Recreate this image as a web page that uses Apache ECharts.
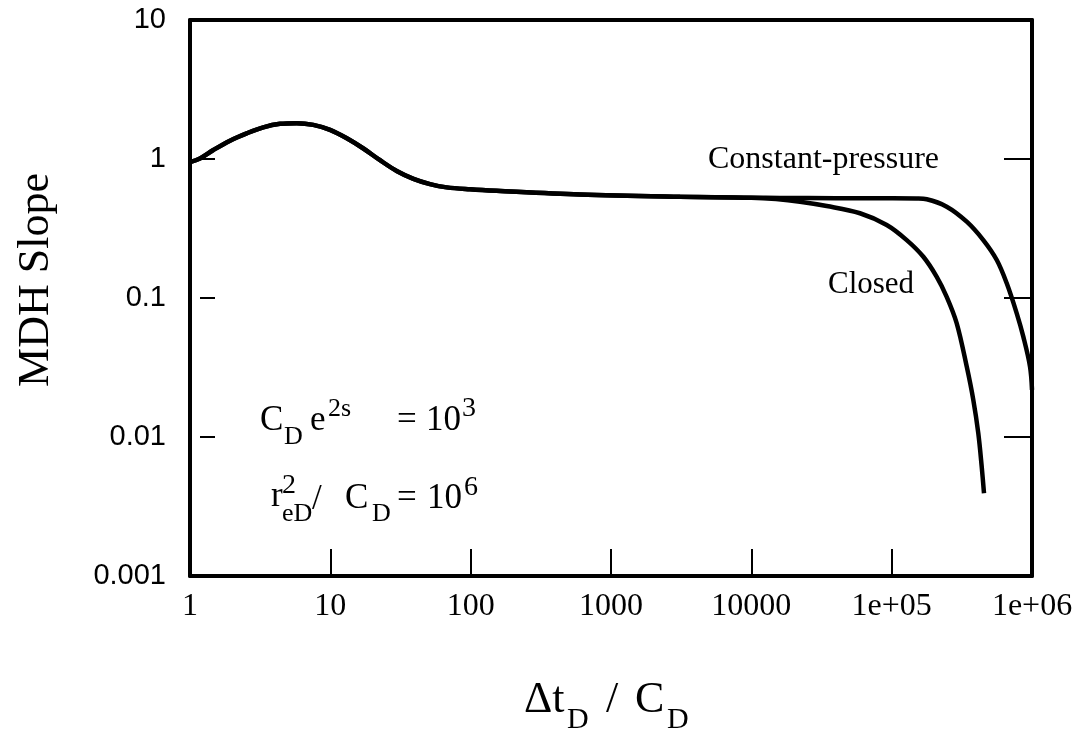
<!DOCTYPE html>
<html>
<head>
<meta charset="utf-8">
<script src="https://cdn.jsdelivr.net/npm/echarts@6/dist/echarts.min.js"></script>
<style>html,body{margin:0;padding:0;background:#fff}#c{width:1083px;height:739px}</style>
</head>
<body>
<div id="c"></div>
<script>
// Shared early-time part of both curves
var tCommon = [1, 1.178, 1.466, 1.928, 2.535, 3.33, 4.38, 5.76, 7.56, 9.95, 13.1, 17.2, 22.6, 29.7, 39.1, 51.3, 67.5, 98.9, 153, 600, 3100, 10000];
var vCommon = [0.95, 1.01, 1.16, 1.355, 1.53, 1.69, 1.79, 1.81, 1.76, 1.62, 1.41, 1.19, 0.98, 0.82, 0.72, 0.66, 0.625, 0.605, 0.59, 0.555, 0.535, 0.527];
// Constant-pressure boundary continuation
var tConst = [16000, 40000, 102000, 150000, 177800, 246700, 342700, 449800, 561000, 660700, 778400, 867000, 968000, 1000000];
var vConst = [0.524, 0.523, 0.523, 0.52, 0.513, 0.454, 0.354, 0.261, 0.1876, 0.1276, 0.0776, 0.0527, 0.0321, 0.0218];
// Closed boundary continuation
var tClosed = [15000, 22230, 34450, 59460, 92200, 128000, 168200, 209500, 246700, 290800, 342700, 381900, 414300, 438200, 455000];
var vClosed = [0.515, 0.493, 0.459, 0.407, 0.335, 0.261, 0.198, 0.142, 0.102, 0.0658, 0.0321, 0.01845, 0.01064, 0.00611, 0.00394];

var xTickLabels = ["1", "10", "100", "1000", "10000", "1e+05", "1e+06"];
var yTickLabels = ["0.001", "0.01", "0.1", "1", "10"];

function pairs(ts, vs) { return ts.map(function (t, i) { return [t, vs[i]]; }); }
var constData = pairs(tCommon, vCommon).concat(pairs(tConst, vConst));
var closedData = pairs(tCommon, vCommon).concat(pairs(tClosed, vClosed));

var serif = '"Liberation Serif", "DejaVu Serif", serif';
var sans = '"Liberation Sans", Arial, sans-serif';

function txt(x, yBase, s, size, extra) {
  var o = {
    type: 'text', left: x, top: yBase - 0.34 * size - size / 2,
    style: { text: s, fontFamily: serif, fontSize: size, fill: '#000', verticalAlign: 'top' }
  };
  if (extra) for (var k in extra) o.style[k] = extra[k];
  return o;
}

var chart = echarts.init(document.getElementById('c'));
chart.setOption({
  animation: false,
  backgroundColor: '#fff',
  grid: { left: 190, right: 51, top: 20, bottom: 163, containLabel: false },
  xAxis: [{
    type: 'log', logBase: 10, min: 1, max: 1000000, splitNumber: 6,
    axisLine: { show: true, lineStyle: { color: '#000', width: 4 } },
    axisTick: { show: true, inside: true, length: 27, lineStyle: { color: '#000', width: 2 } },
    minorTick: { show: false }, splitLine: { show: false },
    axisLabel: {
      margin: 15, color: '#000', fontFamily: serif, fontSize: 32,
      formatter: function (v) { return xTickLabels[Math.round(Math.log10(v))]; }
    }
  }, {
    type: 'log', logBase: 10, min: 1, max: 1000000, position: 'top',
    axisLine: { show: true, lineStyle: { color: '#000', width: 4 } },
    axisTick: { show: false }, axisLabel: { show: false }, splitLine: { show: false }
  }],
  yAxis: [{
    type: 'log', logBase: 10, min: 0.001, max: 10, splitNumber: 4, position: 'left',
    axisLine: { show: true, lineStyle: { color: '#000', width: 4 } },
    axisTick: { show: false }, minorTick: { show: false }, splitLine: { show: false },
    axisLabel: {
      margin: 24, color: '#000', fontFamily: sans, fontSize: 29,
      formatter: function (v) { return yTickLabels[Math.round(Math.log10(v)) + 3]; }
    }
  }, {
    type: 'log', logBase: 10, min: 0.001, max: 10, splitNumber: 4, position: 'right',
    axisLine: { show: true, lineStyle: { color: '#000', width: 4 } },
    axisTick: { show: true, inside: true, length: 28, lineStyle: { color: '#000', width: 2 } },
    axisLabel: { show: false }, splitLine: { show: false }
  }, {
    type: 'log', logBase: 10, min: 0.001, max: 10, splitNumber: 4, position: 'left', offset: -10,
    axisLine: { show: false },
    axisTick: { show: true, inside: true, length: 15, lineStyle: { color: '#000', width: 2 } },
    axisLabel: { show: false }, splitLine: { show: false }
  }],
  series: [{
    name: 'Constant-pressure', type: 'line', data: constData, smooth: 0.35, symbol: 'none',
    lineStyle: { color: '#000', width: 4.5 }, z: 3
  }, {
    name: 'Closed', type: 'line', data: closedData, smooth: 0.35, symbol: 'none',
    lineStyle: { color: '#000', width: 4.5 }, z: 3
  }],
  graphic: [
    txt(708, 170, 'Constant-pressure', 32),
    txt(828, 295, 'Closed', 31),
    // C_D e^{2s} = 10^3
    txt(260, 433, 'C', 35),
    txt(284, 446, 'D', 26),
    txt(310, 433, 'e', 35),
    txt(328, 418, '2s', 26),
    txt(397, 433, '=', 35),
    txt(426, 433, '10', 35),
    txt(462, 418, '3', 28),
    // r_eD^2 / C_D = 10^6
    txt(271, 509, 'r', 35),
    txt(282, 495, '2', 28),
    txt(282, 523, 'eD', 26),
    txt(312, 512, '/', 35),
    txt(345, 511, 'C', 35),
    txt(372, 523, 'D', 26),
    txt(397, 511, '=', 35),
    txt(427, 511, '10', 35),
    txt(464, 497, '6', 28),
    // x-axis title
    txt(524, 715, '\u0394t', 44),
    txt(567, 730, 'D', 30),
    txt(606, 715, '/', 44),
    txt(635, 715, 'C', 44),
    txt(667, 730, 'D', 30),
    // y-axis title
    {
      type: 'text', x: 36, y: 280, rotation: Math.PI / 2,
      style: { text: 'MDH Slope', fontFamily: serif, fontSize: 44, fill: '#000', align: 'center', verticalAlign: 'middle' }
    }
  ]
});
</script>
</body>
</html>
